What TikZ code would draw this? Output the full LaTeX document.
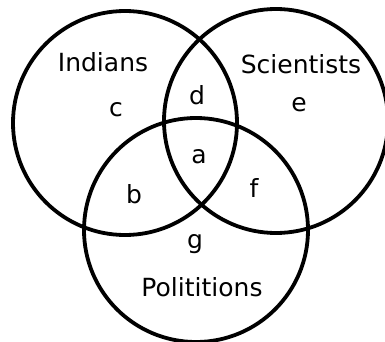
\documentclass[tikz,border=0pt]{standalone}
\usepackage{fontspec}
\setmainfont{DejaVu Sans}
\begin{document}
\begin{tikzpicture}[x=1pt,y=-1pt,
  ring/.style={draw=black,line width=3.8pt},
  lbl/.style={anchor=base,inner sep=0pt,font=\fontsize{25}{29}\selectfont}]
\useasboundingbox (0,0) rectangle (385,342);
\coordinate (cI) at (125,123);
\coordinate (cS) at (276,121);
\coordinate (cP) at (196,230);
\draw[ring] (cI) circle[radius=112pt];
\draw[ring] (cS) circle[radius=112pt];
\draw[ring] (cP) circle[radius=112pt];
\node[lbl] (indians) at (103,72) {Indians};
\node[lbl] (scientists) at (301,74) {Scientists};
\node[lbl] (politions) at (202,296) {Polititions};
\node[lbl] (la) at (199,163) {a};
\node[lbl] (lb) at (134,203) {b};
\node[lbl] (lc) at (116,117) {c};
\node[lbl] (ld) at (197,105) {d};
\node[lbl] (le) at (299,112) {e};
\node[lbl] (lf) at (254,197) {f};
\node[lbl] (lg) at (195,248) {g};
\end{tikzpicture}
\end{document}
